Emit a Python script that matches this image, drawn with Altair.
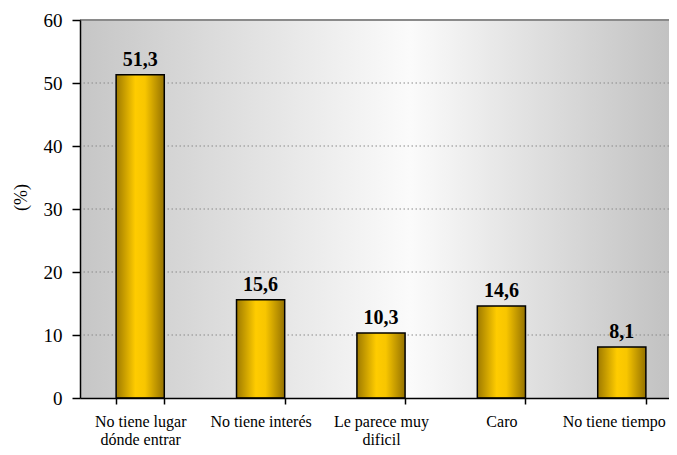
import altair as alt
import pandas as pd

categories = ["No tiene lugar|dónde entrar", "No tiene interés", "Le parece muy|dificil", "Caro", "No tiene tiempo"]
values = [51.3, 15.6, 10.3, 14.6, 8.1]
labels = ["51,3", "15,6", "10,3", "14,6", "8,1"]
grid_values = [10, 20, 30, 40, 50]
y_ticks = [0, 10, 20, 30, 40, 50, 60]
y_max = 60

df = pd.DataFrame({"cat": categories, "val": values, "lab": labels})
grid_df = pd.DataFrame({"g": grid_values})

W, H = 589, 378
FONT = "Liberation Serif, Times New Roman, DejaVu Serif, serif"

x_enc = alt.X(
    "cat:N", sort=categories,
    scale=alt.Scale(range=[0, 602], paddingInner=0.6, paddingOuter=0.3),
    axis=alt.Axis(
        title=None, labelAngle=0, labelExpr="split(datum.label, '|')",
        labelFont=FONT, labelFontSize=16, labelColor="black", labelLineHeight=18,
        labelPadding=9, tickBand="extent", tickSize=6, tickColor="black",
        tickWidth=1.5, domainColor="black", domainWidth=1.5, zindex=1,
        labelBaseline="top", labelBound=False,
        labelOffset={"condition": {"test": "datum.value === 'No tiene tiempo'", "value": -8}, "value": 0},
    ),
)
y_scale = alt.Scale(domain=[0, y_max], nice=False)
y_enc = alt.Y(
    "val:Q", scale=y_scale,
    axis=alt.Axis(
        title="(%)", values=y_ticks, grid=False, labelFont=FONT, labelFontSize=19,
        labelColor="black", labelPadding=10, tickSize=8, tickColor="black",
        tickWidth=1.5, domainColor="black", domainWidth=1.5, zindex=1,
        titleFont=FONT, titleFontSize=18, titleFontWeight="normal", titleColor="black",
        titleX=-59, titleY=177, titleAlign="center", titleBaseline="middle", titleAngle=-90,
    ),
)

bg = alt.Chart(pd.DataFrame({"a": [0]})).mark_rect(
    color=alt.Gradient(
        gradient="linear", x1=0, x2=1, y1=0, y2=0,
        stops=[
            alt.GradientStop(offset=0, color="#c6c6c6"),
            alt.GradientStop(offset=0.56, color="#fbfbfb"),
            alt.GradientStop(offset=1, color="#c2c2c2"),
        ],
    )
).encode(x=alt.value(0), x2=alt.value(W), y=alt.value(0), y2=alt.value(H))

grid = alt.Chart(grid_df).mark_rule(color="#8a8a8a", strokeDash=[1.5, 2.5], strokeWidth=1.2).encode(
    y=alt.Y("g:Q", scale=y_scale)
)
top = alt.Chart(pd.DataFrame({"a": [0]})).mark_rule(color="#8a8a8a", strokeWidth=2).encode(
    y=alt.datum(y_max, scale=y_scale)
)

bars = alt.Chart(df).mark_bar(
    stroke="black", strokeWidth=1.5,
    color=alt.Gradient(
        gradient="linear", x1=0, x2=1, y1=0, y2=0,
        stops=[
            alt.GradientStop(offset=0, color="#9e7a00"),
            alt.GradientStop(offset=0.4, color="#ffcc00"),
            alt.GradientStop(offset=0.6, color="#f8c600"),
            alt.GradientStop(offset=1, color="#957200"),
        ],
    ),
).encode(x=x_enc, y=y_enc)

text = alt.Chart(df).mark_text(
    font=FONT, fontSize=20, fontWeight="bold", color="black", baseline="alphabetic", dy=-9
).encode(x=alt.X("cat:N", sort=categories), y=alt.Y("val:Q", scale=y_scale), text="lab:N")

chart = alt.layer(bg, grid, top, bars, text).properties(
    width=W, height=H,
    autosize=alt.AutoSizeParams(type="none"),
    padding={"left": 72, "top": 12, "right": 0, "bottom": 49},
).configure_view(stroke=None)

chart.save("out.html", embed_options={"renderer": "svg", "actions": False})
